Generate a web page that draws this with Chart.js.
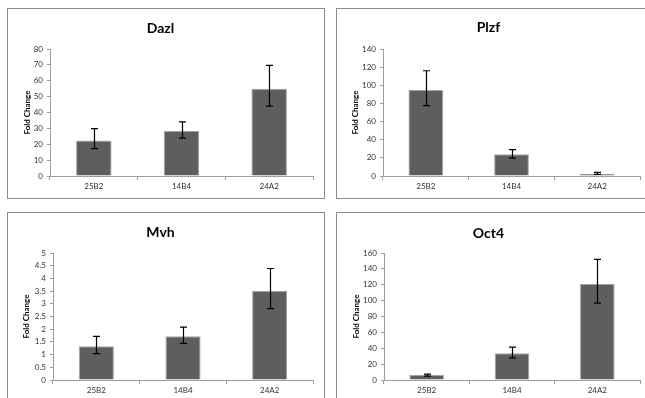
<!DOCTYPE html>
<html>
<head>
<meta charset="utf-8">
<script src="https://cdn.jsdelivr.net/npm/chart.js@4.4.1/dist/chart.umd.min.js"></script>
<style>
    html, body { margin: 0; padding: 0; background: #fff; overflow: hidden; }
    body { width: 645px; height: 398px; position: relative; }
    .panel { position: absolute; width: 316px; height: 189px; border: 1px solid #8c8c8c; background: #fff; }
    .panel canvas { display: block; }
</style>
</head>
<body>
<div class="panel" style="left:7px; top:8px;"><canvas id="dazlChart" width="316" height="189"></canvas></div>
<div class="panel" style="left:336px; top:8px;"><canvas id="plzfChart" width="316" height="189"></canvas></div>
<div class="panel" style="left:7px; top:212px;"><canvas id="mvhChart" width="316" height="189"></canvas></div>
<div class="panel" style="left:336px; top:212px;"><canvas id="oct4Chart" width="316" height="189"></canvas></div>
<script>
// --- Datos ---
const categories = ['25B2', '14B4', '24A2'];

const dazlValues = [22.4, 28.4, 55.0];
const dazlUpper = [29.9, 34.1, 69.7];
const dazlLower = [17.3, 23.8, 44.0];
const dazlTicks = [0, 10, 20, 30, 40, 50, 60, 70, 80];

const plzfValues = [94.8, 23.9, 2.5];
const plzfUpper = [116.0, 29.0, 4.0];
const plzfLower = [77.5, 19.8, 1.9];
const plzfTicks = [0, 20, 40, 60, 80, 100, 120, 140];

const mvhValues = [1.33, 1.72, 3.51];
const mvhUpper = [1.72, 2.08, 4.39];
const mvhLower = [1.04, 1.44, 2.81];
const mvhTicks = [0, 0.5, 1, 1.5, 2, 2.5, 3, 3.5, 4, 4.5, 5];

const oct4Values = [6.3, 33.8, 121.1];
const oct4Upper = [7.5, 41.3, 152.0];
const oct4Lower = [5.0, 28.0, 96.9];
const oct4Ticks = [0, 20, 40, 60, 80, 100, 120, 140, 160];

const FONT = 'Lato, "Open Sans", sans-serif';
const AXIS_GRAY = '#9e9e9e';

// Barras de error (limites superior/inferior por barra)
const errorBarsPlugin = {
    id: 'errorBars',
    afterDatasetsDraw(chart, args, opts) {
        const { ctx } = chart;
        const yScale = chart.scales.y;
        const meta = chart.getDatasetMeta(0);
        ctx.save();
        ctx.strokeStyle = '#000';
        ctx.lineWidth = 1.2;
        meta.data.forEach((bar, i) => {
            const x = Math.round(bar.x) + 0.5;
            const yTop = yScale.getPixelForValue(opts.upper[i]);
            const yBot = yScale.getPixelForValue(opts.lower[i]);
            ctx.beginPath();
            ctx.moveTo(x, yTop);
            ctx.lineTo(x, yBot);
            ctx.moveTo(x - 3.5, yTop);
            ctx.lineTo(x + 3.5, yTop);
            ctx.moveTo(x - 3.5, yBot);
            ctx.lineTo(x + 3.5, yBot);
            ctx.stroke();
        });
        ctx.restore();
    }
};

function makeChart(id, title, values, upper, lower, ticks, cfg) {
    const ctx = document.getElementById(id).getContext('2d');
    const titleLine = 16.8;
    const titleTop = cfg.titleY - titleLine / 2;
    return new Chart(ctx, {
        type: 'bar',
        data: {
            labels: categories,
            datasets: [{
                data: values,
                backgroundColor: '#5e5e5e',
                borderColor: '#a3a3a3',
                borderWidth: 1,
                categoryPercentage: 1,
                barPercentage: 0.405
            }]
        },
        options: {
            responsive: false,
            animation: false,
            layout: { padding: { top: 0, right: cfg.rightPad, bottom: 0, left: 0 } },
            plugins: {
                legend: { display: false },
                tooltip: { enabled: false },
                title: {
                    display: true,
                    text: title,
                    color: '#000',
                    font: { family: FONT, size: 14, weight: 'bold', lineHeight: 1.2 },
                    padding: { top: titleTop, bottom: 40 - titleTop - titleLine }
                },
                errorBars: { upper: upper, lower: lower }
            },
            scales: {
                x: {
                    afterFit: (s) => { s.height = 22; },
                    grid: { offset: true, drawOnChartArea: false, drawTicks: true, tickLength: 4, color: AXIS_GRAY },
                    border: { display: true, color: AXIS_GRAY },
                    ticks: { color: '#333', padding: 2, font: { family: FONT, size: 8 } }
                },
                y: {
                    min: ticks[0],
                    max: ticks[ticks.length - 1],
                    afterFit: (s) => { s.width = cfg.yWidth; },
                    afterBuildTicks: (s) => { s.ticks = ticks.map(v => ({ value: v })); },
                    grid: { drawOnChartArea: false, drawTicks: true, tickLength: 3, color: AXIS_GRAY },
                    border: { display: true, color: AXIS_GRAY },
                    ticks: {
                        color: '#333',
                        padding: 4,
                        font: { family: FONT, size: 8 },
                        callback: (v) => String(v)
                    },
                    title: {
                        display: true,
                        text: 'Fold Change',
                        color: '#000',
                        font: { family: FONT, size: 8, weight: 'bold', lineHeight: 1.2 },
                        padding: { top: cfg.yTitleX - 4.8, bottom: 0 }
                    }
                }
            }
        },
        plugins: [errorBarsPlugin]
    });
}

makeChart('dazlChart', 'Dazl', dazlValues, dazlUpper, dazlLower, dazlTicks,
    { yWidth: 42, rightPad: 11, titleY: 19, yTitleX: 19 });
makeChart('plzfChart', 'Plzf', plzfValues, plzfUpper, plzfLower, plzfTicks,
    { yWidth: 46, rightPad: 13, titleY: 18.5, yTitleX: 18 });
makeChart('mvhChart', 'Mvh', mvhValues, mvhUpper, mvhLower, mvhTicks,
    { yWidth: 45, rightPad: 11, titleY: 19, yTitleX: 18 });
makeChart('oct4Chart', 'Oct4', oct4Values, oct4Upper, oct4Lower, oct4Ticks,
    { yWidth: 47, rightPad: 13, titleY: 20, yTitleX: 19 });
</script>
</body>
</html>
